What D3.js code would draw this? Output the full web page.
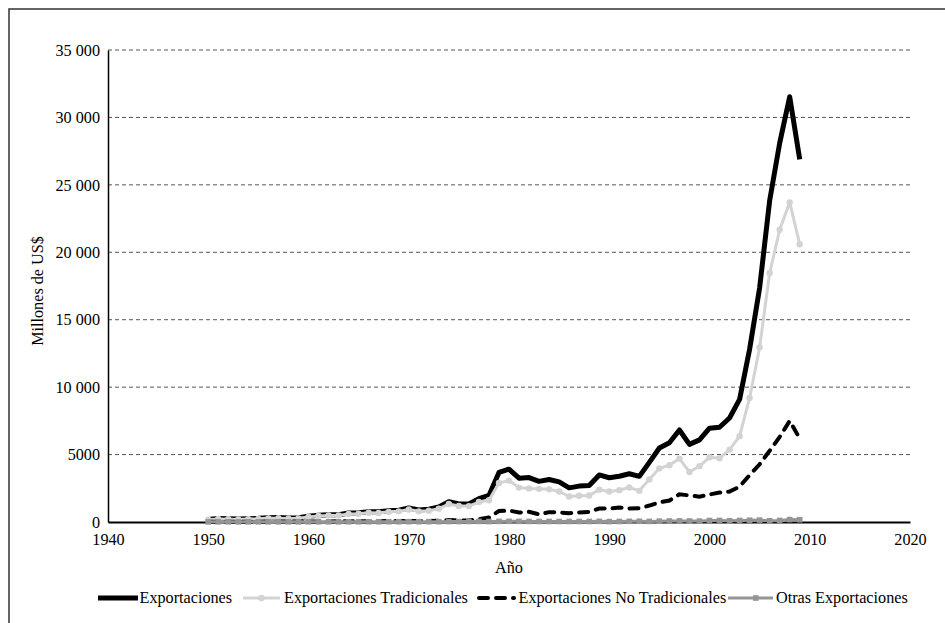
<!DOCTYPE html>
<html>
<head>
<meta charset="utf-8">
<script src="https://cdn.jsdelivr.net/npm/d3@7"></script>
<style>
  body { margin: 0; background: #fff; }
  svg text { font-family: "Liberation Serif", "Times New Roman", serif; fill: #000; }
</style>
</head>
<body>
<svg id="chart" width="945" height="623"></svg>
<script>
// años 1950-2009, millones de US$
var years = d3.range(1950, 2010);

var exportaciones = [
  193, 255, 239, 222, 250, 271, 311, 330, 291, 314,
  433, 496, 540, 541, 667, 685, 764, 757, 840, 880,
  1034, 889, 945, 1112, 1503, 1335, 1341, 1726, 1972, 3676,
  3916, 3249, 3293, 3015, 3147, 2978, 2531, 2661, 2701, 3488,
  3280, 3393, 3578, 3385, 4424, 5491, 5878, 6825, 5757, 6088,
  6955, 7026, 7714, 9091, 12809, 17368, 23830, 28094, 31529, 26885
];
var tradicionales = [
  165, 222, 207, 190, 216, 234, 270, 286, 250, 271,
  380, 440, 478, 478, 595, 610, 683, 675, 752, 788,
  930, 790, 840, 990, 1330, 1190, 1180, 1480, 1610, 2900,
  3070, 2550, 2490, 2460, 2420, 2260, 1890, 1950, 1960, 2400,
  2260, 2360, 2560, 2310, 3160, 3980, 4210, 4700, 3710, 4140,
  4800, 4730, 5370, 6360, 9200, 12950, 18460, 21670, 23700, 20600
];
var noTradicionales = [
  18, 22, 22, 22, 24, 26, 30, 32, 30, 32,
  40, 42, 46, 48, 55, 57, 62, 63, 68, 72,
  80, 75, 80, 100, 140, 110, 120, 200, 330, 810,
  850, 700, 760, 560, 730, 710, 650, 710, 750, 1000,
  990, 1070, 1000, 1020, 1220, 1450, 1590, 2050, 1970, 1880,
  2040, 2180, 2260, 2620, 3480, 4280, 5280, 6310, 7500, 6190
];
var otras = [
  10, 11, 10, 10, 10, 11, 11, 12, 11, 11,
  13, 14, 16, 15, 17, 18, 19, 19, 20, 20,
  24, 24, 25, 22, 33, 35, 41, 46, 32, 45,
  50, 48, 43, 40, 40, 40, 40, 40, 40, 50,
  30, 40, 50, 55, 45, 60, 75, 80, 75, 65,
  110, 115, 90, 115, 130, 140, 90, 115, 180, 170
];

var xTicks = [1940, 1950, 1960, 1970, 1980, 1990, 2000, 2010, 2020];
var yTicks = [0, 5000, 10000, 15000, 20000, 25000, 30000, 35000];
var yTickLabels = ["0", "5000", "10 000", "15 000", "20 000", "25 000", "30 000", "35 000"];

var seriesNames = ["Exportaciones", "Exportaciones Tradicionales", "Exportaciones No Tradicionales", "Otras Exportaciones"];

var svg = d3.select("#chart");
var plotLeft = 108, plotRight = 910, plotTop = 50, plotBottom = 522;
var fontSize = "16.2px";

var x = d3.scaleLinear().domain([1940, 2020]).range([plotLeft, plotRight]);
var y = d3.scaleLinear().domain([0, 35000]).range([plotBottom, plotTop]);

// marco
svg.append("rect")
  .attr("x", 9).attr("y", 9)
  .attr("width", 960).attr("height", 640)
  .attr("fill", "none")
  .attr("stroke", "#333")
  .attr("stroke-width", 1.5);

// rejilla
svg.append("g")
  .selectAll("line")
  .data(yTicks.slice(1))
  .enter().append("line")
  .attr("x1", plotLeft).attr("x2", plotRight)
  .attr("y1", function(d){ return y(d); })
  .attr("y2", function(d){ return y(d); })
  .attr("stroke", "#555")
  .attr("stroke-width", 1)
  .attr("stroke-dasharray", "4,3");

// ejes
var yAxis = svg.append("g")
  .attr("transform", "translate(" + plotLeft + ",0)")
  .call(d3.axisLeft(y).tickValues(yTicks).tickSize(0).tickPadding(8)
    .tickFormat(function(d, i){ return yTickLabels[i]; }));
yAxis.select(".domain").attr("stroke", "#000").attr("stroke-width", 1.5);

var xAxis = svg.append("g")
  .attr("transform", "translate(0," + plotBottom + ")")
  .call(d3.axisBottom(x).tickValues(xTicks).tickSize(0).tickPadding(11)
    .tickFormat(d3.format("d")));
xAxis.select(".domain").attr("stroke", "#000").attr("stroke-width", 2);

svg.selectAll(".tick text")
  .style("font-family", "Liberation Serif")
  .style("font-size", fontSize)
  .attr("fill", "#000");

svg.append("text")
  .attr("x", (plotLeft + plotRight) / 2).attr("y", 573)
  .attr("text-anchor", "middle")
  .style("font-size", fontSize)
  .text("Año");

svg.append("text")
  .attr("transform", "translate(43,291) rotate(-90)")
  .attr("text-anchor", "middle")
  .style("font-size", fontSize)
  .text("Millones de US$");

// series
function pts(vals){
  return years.map(function(yr, i){ return [yr, vals[i]]; });
}
var line = d3.line()
  .x(function(d){ return x(d[0]); })
  .y(function(d){ return y(d[1]); });

svg.append("path")
  .datum(pts(exportaciones))
  .attr("d", line)
  .attr("fill", "none")
  .attr("stroke", "#000")
  .attr("stroke-width", 5)
  .attr("stroke-linejoin", "round");

svg.append("path")
  .datum(pts(tradicionales))
  .attr("d", line)
  .attr("fill", "none")
  .attr("stroke", "#d3d3d3")
  .attr("stroke-width", 3)
  .attr("stroke-linejoin", "round");
svg.append("g").selectAll("circle")
  .data(pts(tradicionales))
  .enter().append("circle")
  .attr("cx", function(d){ return x(d[0]); })
  .attr("cy", function(d){ return y(d[1]); })
  .attr("r", 3.2)
  .attr("fill", "#d3d3d3");

svg.append("path")
  .datum(pts(noTradicionales))
  .attr("d", line)
  .attr("fill", "none")
  .attr("stroke", "#000")
  .attr("stroke-width", 4)
  .attr("stroke-linecap", "round")
  .attr("stroke-dasharray", "9,8");

svg.append("path")
  .datum(pts(otras))
  .attr("d", line)
  .attr("fill", "none")
  .attr("stroke", "#959595")
  .attr("stroke-width", 3);
svg.append("g").selectAll("rect")
  .data(pts(otras))
  .enter().append("rect")
  .attr("x", function(d){ return x(d[0]) - 2.8; })
  .attr("y", function(d){ return y(d[1]) - 2.8; })
  .attr("width", 5.6)
  .attr("height", 5.6)
  .attr("fill", "#959595");

// leyenda
var legend = svg.append("g");
var legendX = [98, 243, 477, 728];
var ly = 598;
seriesNames.forEach(function(name, i){
  var g = legend.append("g");
  var lx = legendX[i], tx;
  if(i == 0){
    g.append("line").attr("x1", lx).attr("x2", lx + 40).attr("y1", ly).attr("y2", ly)
      .attr("stroke", "#000").attr("stroke-width", 5);
    tx = lx + 41.5;
  }
  else if(i == 1){
    g.append("line").attr("x1", lx).attr("x2", lx + 37).attr("y1", ly).attr("y2", ly)
      .attr("stroke", "#d3d3d3").attr("stroke-width", 3);
    g.append("circle").attr("cx", lx + 18.5).attr("cy", ly).attr("r", 3.2).attr("fill", "#d3d3d3");
    tx = lx + 41;
  }
  else if(i == 2){
    g.append("line").attr("x1", lx + 2).attr("x2", lx + 37).attr("y1", ly).attr("y2", ly)
      .attr("stroke", "#000").attr("stroke-width", 4)
      .attr("stroke-linecap", "round").attr("stroke-dasharray", "9,8");
    tx = lx + 41.5;
  }
  else {
    g.append("line").attr("x1", lx).attr("x2", lx + 45).attr("y1", ly).attr("y2", ly)
      .attr("stroke", "#959595").attr("stroke-width", 3);
    g.append("rect").attr("x", lx + 25).attr("y", ly - 2.8).attr("width", 5.6).attr("height", 5.6)
      .attr("fill", "#959595");
    tx = lx + 48;
  }
  g.append("text")
    .attr("x", tx).attr("y", ly + 5)
    .style("font-size", fontSize)
    .text(name);
});
</script>
</body>
</html>
